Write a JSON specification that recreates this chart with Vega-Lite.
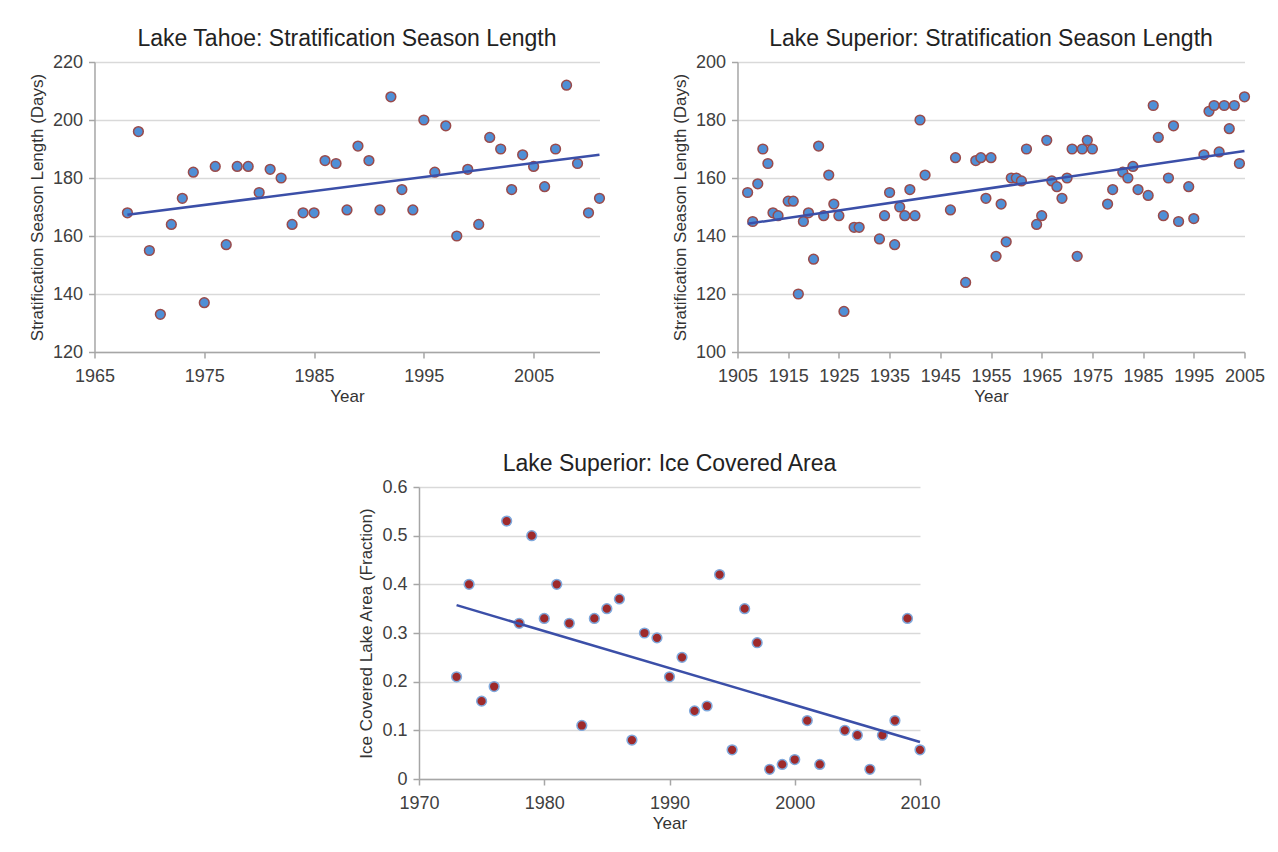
{
  "$schema": "https://vega.github.io/schema/vega-lite/v6.json",
  "background": "white",
  "padding": {"left": 28, "top": 28, "right": 10, "bottom": 10},
  "config": {
    "font": "Liberation Sans",
    "view": {"stroke": null},
    "axis": {
      "labelFont": "Liberation Sans", "labelFontSize": 18, "labelColor": "#404040",
      "titleFont": "Liberation Sans", "titleFontSize": 17, "titleFontWeight": "normal", "titleColor": "#333333",
      "domainColor": "#a6a6a6", "domainWidth": 1.5, "tickColor": "#a6a6a6", "tickWidth": 1.5, "tickSize": 6,
      "gridColor": "#d9d9d9", "gridWidth": 1.5, "labelPadding": 6, "titlePadding": 6, "labelFlush": false
    },
    "axisX": {"labelPadding": 9, "titlePadding": 3, "labelOverlap": false, "labelFlush": false},
    "title": {"fontSize": 23, "fontWeight": "normal", "font": "Liberation Sans", "color": "#222222", "offset": 2}
  },
  "datasets": {
    "tahoe": [
      {"year": 1968, "days": 168}, {"year": 1969, "days": 196}, {"year": 1970, "days": 155}, {"year": 1971, "days": 133},
      {"year": 1972, "days": 164}, {"year": 1973, "days": 173}, {"year": 1974, "days": 182}, {"year": 1975, "days": 137},
      {"year": 1976, "days": 184}, {"year": 1977, "days": 157}, {"year": 1978, "days": 184}, {"year": 1979, "days": 184},
      {"year": 1980, "days": 175}, {"year": 1981, "days": 183}, {"year": 1982, "days": 180}, {"year": 1983, "days": 164},
      {"year": 1984, "days": 168}, {"year": 1985, "days": 168}, {"year": 1986, "days": 186}, {"year": 1987, "days": 185},
      {"year": 1988, "days": 169}, {"year": 1989, "days": 191}, {"year": 1990, "days": 186}, {"year": 1991, "days": 169},
      {"year": 1992, "days": 208}, {"year": 1993, "days": 176}, {"year": 1994, "days": 169}, {"year": 1995, "days": 200},
      {"year": 1996, "days": 182}, {"year": 1997, "days": 198}, {"year": 1998, "days": 160}, {"year": 1999, "days": 183},
      {"year": 2000, "days": 164}, {"year": 2001, "days": 194}, {"year": 2002, "days": 190}, {"year": 2003, "days": 176},
      {"year": 2004, "days": 188}, {"year": 2005, "days": 184}, {"year": 2006, "days": 177}, {"year": 2007, "days": 190},
      {"year": 2008, "days": 212}, {"year": 2009, "days": 185}, {"year": 2010, "days": 168}, {"year": 2011, "days": 173}
    ],
    "superior": [
      {"year": 1907, "days": 155}, {"year": 1908, "days": 145}, {"year": 1909, "days": 158}, {"year": 1910, "days": 170},
      {"year": 1911, "days": 165}, {"year": 1912, "days": 148}, {"year": 1913, "days": 147}, {"year": 1915, "days": 152},
      {"year": 1916, "days": 152}, {"year": 1917, "days": 120}, {"year": 1918, "days": 145}, {"year": 1919, "days": 148},
      {"year": 1920, "days": 132}, {"year": 1921, "days": 171}, {"year": 1922, "days": 147}, {"year": 1923, "days": 161},
      {"year": 1924, "days": 151}, {"year": 1925, "days": 147}, {"year": 1926, "days": 114}, {"year": 1928, "days": 143},
      {"year": 1929, "days": 143}, {"year": 1933, "days": 139}, {"year": 1934, "days": 147}, {"year": 1935, "days": 155},
      {"year": 1936, "days": 137}, {"year": 1937, "days": 150}, {"year": 1938, "days": 147}, {"year": 1939, "days": 156},
      {"year": 1940, "days": 147}, {"year": 1941, "days": 180}, {"year": 1942, "days": 161}, {"year": 1947, "days": 149},
      {"year": 1948, "days": 167}, {"year": 1950, "days": 124}, {"year": 1952, "days": 166}, {"year": 1953, "days": 167},
      {"year": 1954, "days": 153}, {"year": 1955, "days": 167}, {"year": 1956, "days": 133}, {"year": 1957, "days": 151},
      {"year": 1958, "days": 138}, {"year": 1959, "days": 160}, {"year": 1960, "days": 160}, {"year": 1961, "days": 159},
      {"year": 1962, "days": 170}, {"year": 1964, "days": 144}, {"year": 1965, "days": 147}, {"year": 1966, "days": 173},
      {"year": 1967, "days": 159}, {"year": 1968, "days": 157}, {"year": 1969, "days": 153}, {"year": 1970, "days": 160},
      {"year": 1971, "days": 170}, {"year": 1972, "days": 133}, {"year": 1973, "days": 170}, {"year": 1974, "days": 173},
      {"year": 1975, "days": 170}, {"year": 1978, "days": 151}, {"year": 1979, "days": 156}, {"year": 1981, "days": 162},
      {"year": 1982, "days": 160}, {"year": 1983, "days": 164}, {"year": 1984, "days": 156}, {"year": 1986, "days": 154},
      {"year": 1987, "days": 185}, {"year": 1988, "days": 174}, {"year": 1989, "days": 147}, {"year": 1990, "days": 160},
      {"year": 1991, "days": 178}, {"year": 1992, "days": 145}, {"year": 1994, "days": 157}, {"year": 1995, "days": 146},
      {"year": 1997, "days": 168}, {"year": 1998, "days": 183}, {"year": 1999, "days": 185}, {"year": 2000, "days": 169},
      {"year": 2001, "days": 185}, {"year": 2002, "days": 177}, {"year": 2003, "days": 185}, {"year": 2004, "days": 165},
      {"year": 2005, "days": 188}
    ],
    "ice": [
      {"year": 1973, "fraction": 0.21}, {"year": 1974, "fraction": 0.40}, {"year": 1975, "fraction": 0.16}, {"year": 1976, "fraction": 0.19},
      {"year": 1977, "fraction": 0.53}, {"year": 1978, "fraction": 0.32}, {"year": 1979, "fraction": 0.50}, {"year": 1980, "fraction": 0.33},
      {"year": 1981, "fraction": 0.40}, {"year": 1982, "fraction": 0.32}, {"year": 1983, "fraction": 0.11}, {"year": 1984, "fraction": 0.33},
      {"year": 1985, "fraction": 0.35}, {"year": 1986, "fraction": 0.37}, {"year": 1987, "fraction": 0.08}, {"year": 1988, "fraction": 0.30},
      {"year": 1989, "fraction": 0.29}, {"year": 1990, "fraction": 0.21}, {"year": 1991, "fraction": 0.25}, {"year": 1992, "fraction": 0.14},
      {"year": 1993, "fraction": 0.15}, {"year": 1994, "fraction": 0.42}, {"year": 1995, "fraction": 0.06}, {"year": 1996, "fraction": 0.35},
      {"year": 1997, "fraction": 0.28}, {"year": 1998, "fraction": 0.02}, {"year": 1999, "fraction": 0.03}, {"year": 2000, "fraction": 0.04},
      {"year": 2001, "fraction": 0.12}, {"year": 2002, "fraction": 0.03}, {"year": 2004, "fraction": 0.10}, {"year": 2005, "fraction": 0.09},
      {"year": 2006, "fraction": 0.02}, {"year": 2007, "fraction": 0.09}, {"year": 2008, "fraction": 0.12}, {"year": 2009, "fraction": 0.33},
      {"year": 2010, "fraction": 0.06}
    ]
  },
  "spacing": 49,
  "center": true,
  "vconcat": [
    {
      "spacing": 63,
      "hconcat": [
        {
          "width": 505, "height": 290,
          "title": "Lake Tahoe: Stratification Season Length",
          "data": {"name": "tahoe"},
          "layer": [
            {
              "mark": {"type": "circle", "size": 95, "fill": "#4f8fd6", "stroke": "#9a4b4b", "strokeWidth": 1.5, "opacity": 1},
              "encoding": {
                "x": {"field": "year", "type": "quantitative", "scale": {"domain": [1965, 2011], "nice": false, "zero": false},
                      "axis": {"values": [1965, 1975, 1985, 1995, 2005], "format": "d", "grid": false, "title": "Year"}},
                "y": {"field": "days", "type": "quantitative", "scale": {"domain": [120, 220], "nice": false, "zero": false},
                      "axis": {"values": [120, 140, 160, 180, 200, 220], "title": "Stratification Season Length (Days)"}}
              }
            },
            {
              "transform": [{"regression": "days", "on": "year"}],
              "mark": {"type": "line", "color": "#3b4fa8", "strokeWidth": 2.5},
              "encoding": {
                "x": {"field": "year", "type": "quantitative"},
                "y": {"field": "days", "type": "quantitative"}
              }
            }
          ]
        },
        {
          "width": 507, "height": 290,
          "title": "Lake Superior: Stratification Season Length",
          "data": {"name": "superior"},
          "layer": [
            {
              "mark": {"type": "circle", "size": 95, "fill": "#4f8fd6", "stroke": "#9a4b4b", "strokeWidth": 1.5, "opacity": 1},
              "encoding": {
                "x": {"field": "year", "type": "quantitative", "scale": {"domain": [1905, 2005], "nice": false, "zero": false},
                      "axis": {"values": [1905, 1915, 1925, 1935, 1945, 1955, 1965, 1975, 1985, 1995, 2005], "format": "d", "grid": false, "title": "Year"}},
                "y": {"field": "days", "type": "quantitative", "scale": {"domain": [100, 200], "nice": false, "zero": false},
                      "axis": {"values": [100, 120, 140, 160, 180, 200], "title": "Stratification Season Length (Days)"}}
              }
            },
            {
              "transform": [{"regression": "days", "on": "year"}],
              "mark": {"type": "line", "color": "#3b4fa8", "strokeWidth": 2.5},
              "encoding": {
                "x": {"field": "year", "type": "quantitative"},
                "y": {"field": "days", "type": "quantitative"}
              }
            }
          ]
        }
      ]
    },
    {
      "width": 501, "height": 292,
      "title": "Lake Superior: Ice Covered Area",
      "data": {"name": "ice"},
      "layer": [
        {
          "mark": {"type": "circle", "size": 95, "fill": "#9e2a2b", "stroke": "#7fa8dc", "strokeWidth": 1.5, "opacity": 1},
          "encoding": {
            "x": {"field": "year", "type": "quantitative", "scale": {"domain": [1970, 2010], "nice": false, "zero": false},
                  "axis": {"values": [1970, 1980, 1990, 2000, 2010], "format": "d", "grid": false, "title": "Year"}},
            "y": {"field": "fraction", "type": "quantitative", "scale": {"domain": [0, 0.6], "nice": false},
                  "axis": {"values": [0, 0.1, 0.2, 0.3, 0.4, 0.5, 0.6], "format": ".1~f", "title": "Ice Covered Lake Area (Fraction)"}}
          }
        },
        {
          "transform": [{"regression": "fraction", "on": "year"}],
          "mark": {"type": "line", "color": "#3b4fa8", "strokeWidth": 2.5},
          "encoding": {
            "x": {"field": "year", "type": "quantitative"},
            "y": {"field": "fraction", "type": "quantitative"}
          }
        }
      ]
    }
  ]
}
